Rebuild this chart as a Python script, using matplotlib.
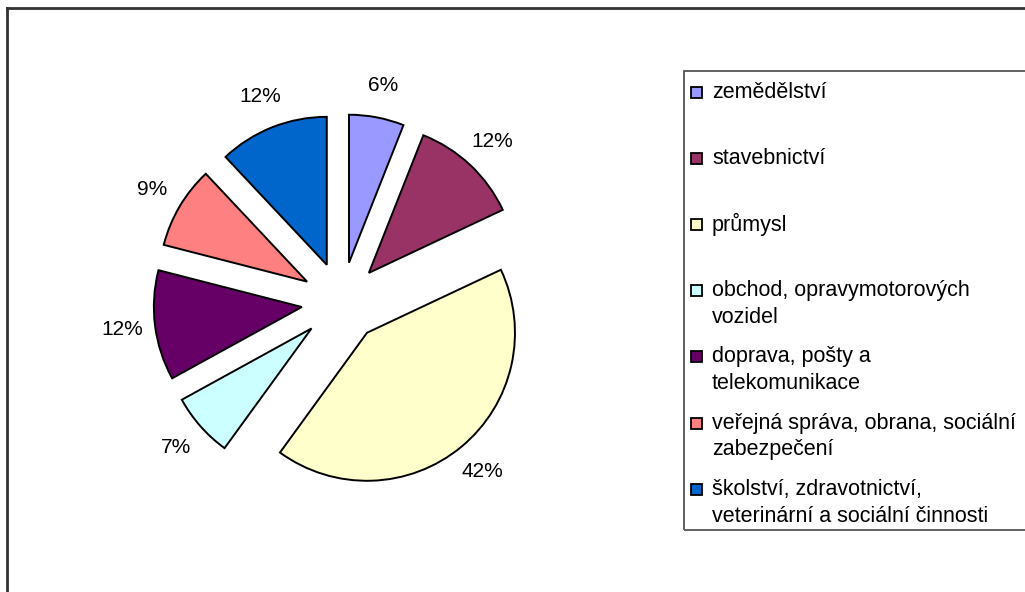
import numpy as np
import matplotlib.pyplot as plt
from matplotlib.patches import Rectangle
from matplotlib.lines import Line2D

# data
odvetvi = ['zemědělství',
           'stavebnictví',
           'průmysl',
           'obchod, opravymotorových\nvozidel',
           'doprava, pošty a\ntelekomunikace',
           'veřejná správa, obrana, sociální\nzabezpečení',
           'školství, zdravotnictví,\nveterinární a sociální činnosti']
podily = [6, 12, 42, 7, 12, 9, 12]
barvy = ['#9999FF', '#993366', '#FFFFCC', '#CCFFFF', '#660066', '#FF8080', '#0066CC']

plt.rcParams['font.family'] = ['Liberation Sans', 'DejaVu Sans']

W, H = 1025, 592
fig = plt.figure(figsize=(W / 100, H / 100), dpi=100)


def fx(px):
    return px / W


def fy(py):
    return 1 - py / H


# osa pro kolac, stred a polomer v pixelech
cx, cy, r = 341.5, 302, 148
half = 250
ax = fig.add_axes([fx(cx - half), fy(cy + half), 2 * half / W, 2 * half / H])
wedges, texts = ax.pie(podily, colors=barvy, startangle=90, counterclock=False,
                       explode=[0.27] * len(podily),
                       labels=[f'{p}%' for p in podily], labeldistance=1.22,
                       wedgeprops=dict(edgecolor='black', linewidth=1.4),
                       textprops=dict(fontsize=15, color='black'))
for t in texts:
    t.set_horizontalalignment('center')
lim = half / r
ax.set_xlim(-lim, lim)
ax.set_ylim(-lim, lim)

# ramecek grafu (jen levy a horni okraj je videt)
fig.add_artist(Line2D([fx(7), fx(7)], [0, fy(8)], color='#333333', lw=2, transform=fig.transFigure))
fig.add_artist(Line2D([fx(7), 1], [fy(8), fy(8)], color='#333333', lw=2, transform=fig.transFigure))

# legenda
fig.add_artist(Rectangle((fx(684), fy(530)), 1.01 - fx(684), fy(71) - fy(530),
                         fill=False, edgecolor='#555555', lw=1.3,
                         transform=fig.transFigure, clip_on=False))
y0, krok, radek = 92, 66.2, 27
sq = 11
for i, (nazev, barva) in enumerate(zip(odvetvi, barvy)):
    y = y0 + i * krok
    fig.add_artist(Rectangle((fx(696 - sq / 2), fy(y + sq / 2)), sq / W, sq / H,
                             facecolor=barva, edgecolor='black', lw=1.3,
                             transform=fig.transFigure))
    for k, radka in enumerate(nazev.split('\n')):
        fig.text(fx(712), fy(y + k * radek), radka, fontsize=15.5,
                 ha='left', va='center')

plt.savefig('out.png', dpi=100)
